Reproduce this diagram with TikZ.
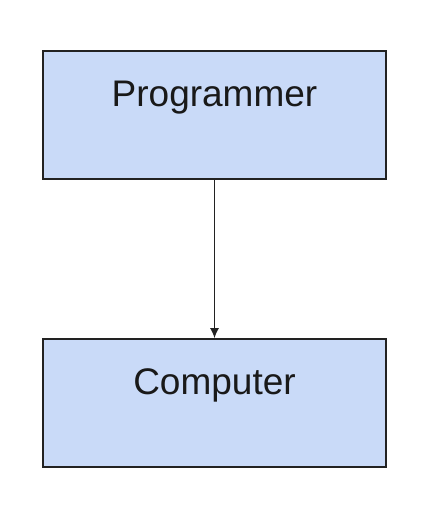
\documentclass[tikz,border=0pt]{standalone}
\usepackage{fontspec}
\setmainfont{Liberation Sans}
\usetikzlibrary{positioning,arrows.meta}

\definecolor{boxfill}{HTML}{C9DAF8}
\definecolor{boxline}{HTML}{222222}

\begin{document}
\begin{tikzpicture}[
  x=1pt, y=1pt,
  every node/.append style={font=\fontsize{37pt}{41pt}\selectfont},
  rolebox/.style={draw=boxline, fill=boxfill, line width=1.6pt,
    minimum width=343pt, minimum height=128pt, inner sep=0pt,
    text height=27pt, text depth=44pt, text=black!90},
  feed/.style={draw=boxline, line width=1.5pt,
    -{Latex[length=10pt, width=9pt]}},
]
\useasboundingbox (0,0) rectangle (426,510);

% ------------------------------------------------------------ the boxes
\node[rolebox] (prog) at (214.5,395) {Programmer};
\node[rolebox] (comp) at (214.5,107) {Computer};

% ------------------------------------------------------------ the link
\draw[feed] (prog.south) -- (comp.north);

\end{tikzpicture}
\end{document}
